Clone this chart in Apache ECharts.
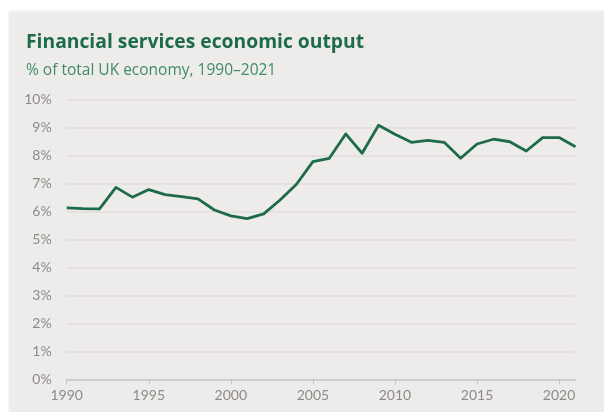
<!DOCTYPE html>
<html>
<head>
<meta charset="utf-8">
<style>
  html, body { margin: 0; padding: 0; background: #ffffff; }
  #chart { width: 604px; height: 412px; }
</style>
<script src="https://cdn.jsdelivr.net/npm/echarts@6/dist/echarts.min.js"></script>
</head>
<body>
<div id="chart"></div>
<script>
// Financial services output as a share of the UK economy (%), one value per year
const years = ['1990','1991','1992','1993','1994','1995','1996','1997','1998','1999',
  '2000','2001','2002','2003','2004','2005','2006','2007','2008','2009',
  '2010','2011','2012','2013','2014','2015','2016','2017','2018','2019',
  '2020','2021'];
const sharePct = [6.13, 6.10, 6.09, 6.86, 6.51, 6.78, 6.60, 6.53, 6.45, 6.05,
  5.84, 5.74, 5.91, 6.41, 6.97, 7.78, 7.90, 8.77, 8.08, 9.08,
  8.76, 8.47, 8.54, 8.47, 7.90, 8.41, 8.58, 8.49, 8.16, 8.64,
  8.64, 8.31];
const yTicks = [0, 1, 2, 3, 4, 5, 6, 7, 8, 9, 10];

const titleText = 'Financial services economic output';
const subtitleText = '% of total UK economy, 1990\u20132021';

const GREEN = '#1d6b4b';
const LABEL_GREY = '#8d8b89';
const TITLE_FONT = '"Open Sans", "Noto Sans", sans-serif';
const AXIS_FONT = 'Lato, "Noto Sans", sans-serif';

const chart = echarts.init(document.getElementById('chart'), null, { renderer: 'canvas' });

chart.setOption({
  backgroundColor: '#ffffff',
  animation: false,
  graphic: [{
    type: 'rect',
    left: 9, top: 12,
    shape: { width: 600, height: 405 },
    style: { fill: '#eeecea', shadowColor: 'rgba(0,0,0,0.08)', shadowBlur: 3, shadowOffsetY: -1 },
    z: -10
  }],
  title: {
    text: titleText,
    subtext: subtitleText,
    left: 21,
    top: 28,
    itemGap: 11,
    textStyle: { fontFamily: TITLE_FONT, fontWeight: 'bold', fontSize: 19.3, color: GREEN },
    subtextStyle: { fontFamily: TITLE_FONT, fontSize: 15.5, color: '#3f8c67' }
  },
  grid: { left: 66.7, right: 28.5, top: 99.5, bottom: 32.7, containLabel: false },
  xAxis: {
    type: 'category',
    data: years,
    boundaryGap: false,
    axisLine: { lineStyle: { color: '#c8c6c4', width: 1.5 } },
    axisTick: {
      length: 5,
      interval: (i) => i % 5 === 0,
      lineStyle: { color: '#c8c6c4', width: 1 }
    },
    axisLabel: {
      interval: (i) => i % 5 === 0,
      margin: 9,
      fontFamily: AXIS_FONT,
      fontSize: 14,
      color: LABEL_GREY
    },
    splitLine: { show: false }
  },
  yAxis: {
    type: 'value',
    min: yTicks[0],
    max: yTicks[yTicks.length - 1],
    interval: 1,
    axisLine: { show: false },
    axisTick: { show: false },
    axisLabel: {
      formatter: '{value}%',
      margin: 15,
      fontFamily: AXIS_FONT,
      fontSize: 14,
      color: LABEL_GREY
    },
    splitLine: { lineStyle: { color: '#e0dedc', width: 1.5 } }
  },
  series: [{
    type: 'line',
    data: sharePct,
    symbol: 'none',
    lineStyle: { color: GREEN, width: 2.8, join: 'round' }
  }]
});
</script>
</body>
</html>
